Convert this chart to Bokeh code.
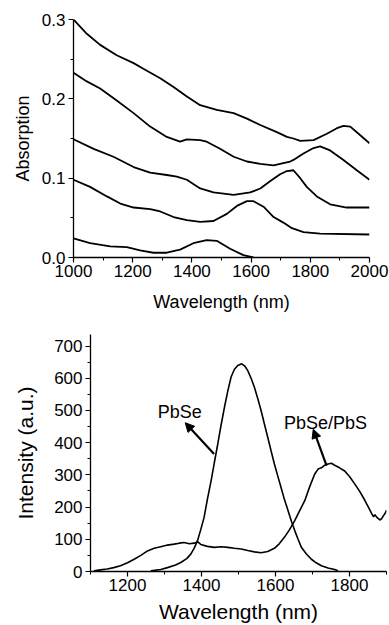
from bokeh.plotting import figure
from bokeh.layouts import column
from bokeh.models import FixedTicker, PrintfTickFormatter, Range1d, Arrow, NormalHead, Label
from bokeh.embed import file_html
from bokeh.resources import INLINE

# ---------------- Absorption spectra (top panel) ----------------
abs1_x = [1000, 1045, 1090, 1146, 1203, 1236, 1293, 1338, 1383, 1428, 1484, 1541, 1586, 1631,
          1687, 1721, 1743, 1766, 1811, 1856, 1890, 1912, 1935, 1963, 2000]
abs1_y = [0.300, 0.282, 0.268, 0.255, 0.245, 0.238, 0.226, 0.215, 0.203, 0.192, 0.186, 0.182, 0.175, 0.167,
          0.158, 0.152, 0.150, 0.147, 0.148, 0.156, 0.163, 0.166, 0.165, 0.156, 0.144]

abs2_x = [1000, 1045, 1090, 1146, 1203, 1259, 1315, 1360, 1383, 1428, 1450, 1495, 1541, 1586, 1631,
          1676, 1709, 1732, 1743, 1777, 1811, 1833, 1867, 1912, 1957, 2000]
abs2_y = [0.233, 0.222, 0.213, 0.198, 0.182, 0.165, 0.152, 0.146, 0.149, 0.148, 0.146, 0.137, 0.127, 0.121, 0.118,
          0.116, 0.119, 0.121, 0.123, 0.131, 0.138, 0.140, 0.135, 0.123, 0.110, 0.098]

abs3_x = [1000, 1068, 1135, 1203, 1259, 1315, 1349, 1383, 1428, 1473, 1541, 1597, 1631, 1664, 1698,
          1721, 1743, 1766, 1788, 1822, 1867, 1923, 2000]
abs3_y = [0.149, 0.137, 0.127, 0.114, 0.107, 0.104, 0.102, 0.098, 0.087, 0.082, 0.079, 0.082, 0.087, 0.096, 0.105,
          0.109, 0.110, 0.100, 0.089, 0.077, 0.067, 0.063, 0.063]

abs4_x = [1000, 1056, 1113, 1158, 1203, 1259, 1293, 1338, 1383, 1428, 1473, 1518, 1552, 1586, 1608,
          1642, 1676, 1709, 1738, 1777, 1833, 2000]
abs4_y = [0.098, 0.089, 0.077, 0.068, 0.063, 0.061, 0.058, 0.051, 0.047, 0.045, 0.046, 0.055, 0.065, 0.071, 0.071,
          0.064, 0.051, 0.044, 0.037, 0.032, 0.030, 0.029]

abs5_x = [1000, 1056, 1124, 1180, 1225, 1270, 1315, 1360, 1405, 1450, 1484, 1529, 1574, 1608]
abs5_y = [0.024, 0.018, 0.014, 0.013, 0.009, 0.006, 0.006, 0.010, 0.018, 0.022, 0.021, 0.011, 0.003, 0.000]

abs_x_ticks = [1000, 1200, 1400, 1600, 1800, 2000]
abs_x_minor = [1100, 1300, 1500, 1700, 1900]
abs_y_ticks = [0.0, 0.1, 0.2, 0.3]
abs_y_minor = [0.05, 0.15, 0.25]

# ---------------- Photoluminescence (bottom panel) ----------------
pbse_x = [1263, 1290, 1308, 1330, 1344, 1360, 1371, 1380, 1389, 1398, 1407, 1416, 1426, 1435, 1444, 1453,
          1462, 1471, 1480, 1489, 1498, 1509, 1517, 1525, 1534, 1543, 1552, 1561, 1570, 1579, 1588,
          1597, 1606, 1615, 1624, 1634, 1643, 1652, 1661, 1670, 1683, 1697, 1710, 1724, 1742, 1760, 1769]
pbse_y = [2, 6, 12, 20, 28, 40, 54, 72, 95, 130, 168, 225, 282, 340, 396, 455,
          510, 560, 604, 628, 640, 645, 638, 624, 600, 572, 537, 500, 458, 417, 375,
          334, 297, 261, 224, 189, 156, 127, 100, 75, 55, 38, 27, 18, 11, 6, 2]

pbsepbs_x = [1109, 1127, 1145, 1163, 1181, 1200, 1218, 1236, 1254, 1272, 1290, 1308, 1326, 1340, 1353,
             1367, 1380, 1390, 1398, 1416, 1435, 1453, 1471, 1489, 1507, 1525, 1543, 1561, 1579, 1597,
             1610, 1624, 1638, 1652, 1665, 1679, 1692, 1706, 1715, 1724, 1733, 1742, 1751, 1760, 1773,
             1787, 1800, 1814, 1828, 1841, 1851, 1860, 1865, 1869, 1874, 1882, 1887, 1891, 1896, 1900]
pbsepbs_y = [2, 5, 8, 12, 18, 27, 38, 50, 64, 72, 77, 82, 85, 88, 90,
             86, 88, 92, 84, 78, 75, 77, 75, 72, 70, 65, 61, 58, 62, 72,
             86, 106, 130, 158, 188, 220, 262, 303, 318, 322, 330, 334, 336, 330, 322,
             312, 295, 272, 248, 222, 200, 180, 170, 176, 168, 160, 164, 172, 180, 190]

pl_x_ticks = [1200, 1400, 1600, 1800]
pl_x_minor = [1100, 1300, 1500, 1700, 1900]
pl_y_ticks = [0, 100, 200, 300, 400, 500, 600, 700]
pl_y_minor = [50, 150, 250, 350, 450, 550, 650]

pl_labels = ["PbSe", "PbSe/PbS"]
pl_label_x = [1341, 1735]
pl_label_y = [494, 462]
arrow_x_start = [1434, 1738]
arrow_y_start = [365, 329]
arrow_x_end = [1356, 1702]
arrow_y_end = [462, 442]

FONT = "Liberation Sans"


def style(p, tick_size, title_size, label_standoff_x, label_standoff_y, title_standoff_x, title_standoff_y):
    p.outline_line_color = None
    p.xgrid.grid_line_color = None
    p.ygrid.grid_line_color = None
    p.background_fill_color = "white"
    p.border_fill_color = "white"
    for ax, lst, tst in ((p.xaxis[0], label_standoff_x, title_standoff_x),
                         (p.yaxis[0], label_standoff_y, title_standoff_y)):
        ax.axis_line_color = "black"
        ax.axis_line_width = 1.3
        ax.major_tick_line_color = "black"
        ax.minor_tick_line_color = "black"
        ax.major_tick_line_width = 1.2
        ax.minor_tick_line_width = 1.0
        ax.major_tick_in = 0
        ax.major_tick_out = 5
        ax.minor_tick_in = 0
        ax.minor_tick_out = 3
        ax.major_label_text_font = FONT
        ax.major_label_text_font_size = tick_size
        ax.major_label_text_color = "black"
        ax.major_label_standoff = lst
        ax.axis_label_text_font = FONT
        ax.axis_label_text_font_size = title_size
        ax.axis_label_text_font_style = "normal"
        ax.axis_label_text_color = "black"
        ax.axis_label_standoff = tst


# Top figure
p1 = figure(width=389, height=318, output_backend="svg", toolbar_location=None,
            x_range=Range1d(1000, 2000), y_range=Range1d(0, 0.3),
            min_border_left=73, min_border_right=20, min_border_top=19, min_border_bottom=61,
            x_axis_label="Wavelength (nm)", y_axis_label="Absorption")
p1.frame_align = False
for xs, ys in ((abs1_x, abs1_y), (abs2_x, abs2_y), (abs3_x, abs3_y), (abs4_x, abs4_y), (abs5_x, abs5_y)):
    p1.line(xs, ys, line_color="black", line_width=1.8)
p1.xaxis.ticker = FixedTicker(ticks=abs_x_ticks, minor_ticks=abs_x_minor)
p1.yaxis.ticker = FixedTicker(ticks=abs_y_ticks, minor_ticks=abs_y_minor)
p1.yaxis.formatter = PrintfTickFormatter(format="%.1f")
style(p1, "17px", "18px", 2, 3, 12, 6)

# Bottom figure
p2 = figure(width=389, height=307, output_backend="svg", toolbar_location=None,
            x_range=Range1d(1100, 1900), y_range=Range1d(0, 736),
            min_border_left=90, min_border_right=3, min_border_top=16, min_border_bottom=54,
            x_axis_label="Wavelength (nm)", y_axis_label="Intensity (a.u.)")
p2.frame_align = False
p2.line(pbse_x, pbse_y, line_color="black", line_width=1.6)
p2.line(pbsepbs_x, pbsepbs_y, line_color="black", line_width=1.6)
p2.xaxis.ticker = FixedTicker(ticks=pl_x_ticks, minor_ticks=pl_x_minor)
p2.yaxis.ticker = FixedTicker(ticks=pl_y_ticks, minor_ticks=pl_y_minor)
style(p2, "17px", "21px", 2, 3, 6, 14)

for i in range(len(pl_labels)):
    p2.add_layout(Arrow(end=NormalHead(size=9, fill_color="black", line_color="black"),
                        x_start=arrow_x_start[i], y_start=arrow_y_start[i],
                        x_end=arrow_x_end[i], y_end=arrow_y_end[i],
                        line_color="black", line_width=2.2))
    p2.add_layout(Label(x=pl_label_x[i], y=pl_label_y[i], text=pl_labels[i],
                        text_align="center", text_baseline="middle",
                        text_font=FONT, text_font_size="18px", text_color="black"))

layout = column(p1, p2, spacing=0)
open("out.html", "w").write(file_html(layout, INLINE))
